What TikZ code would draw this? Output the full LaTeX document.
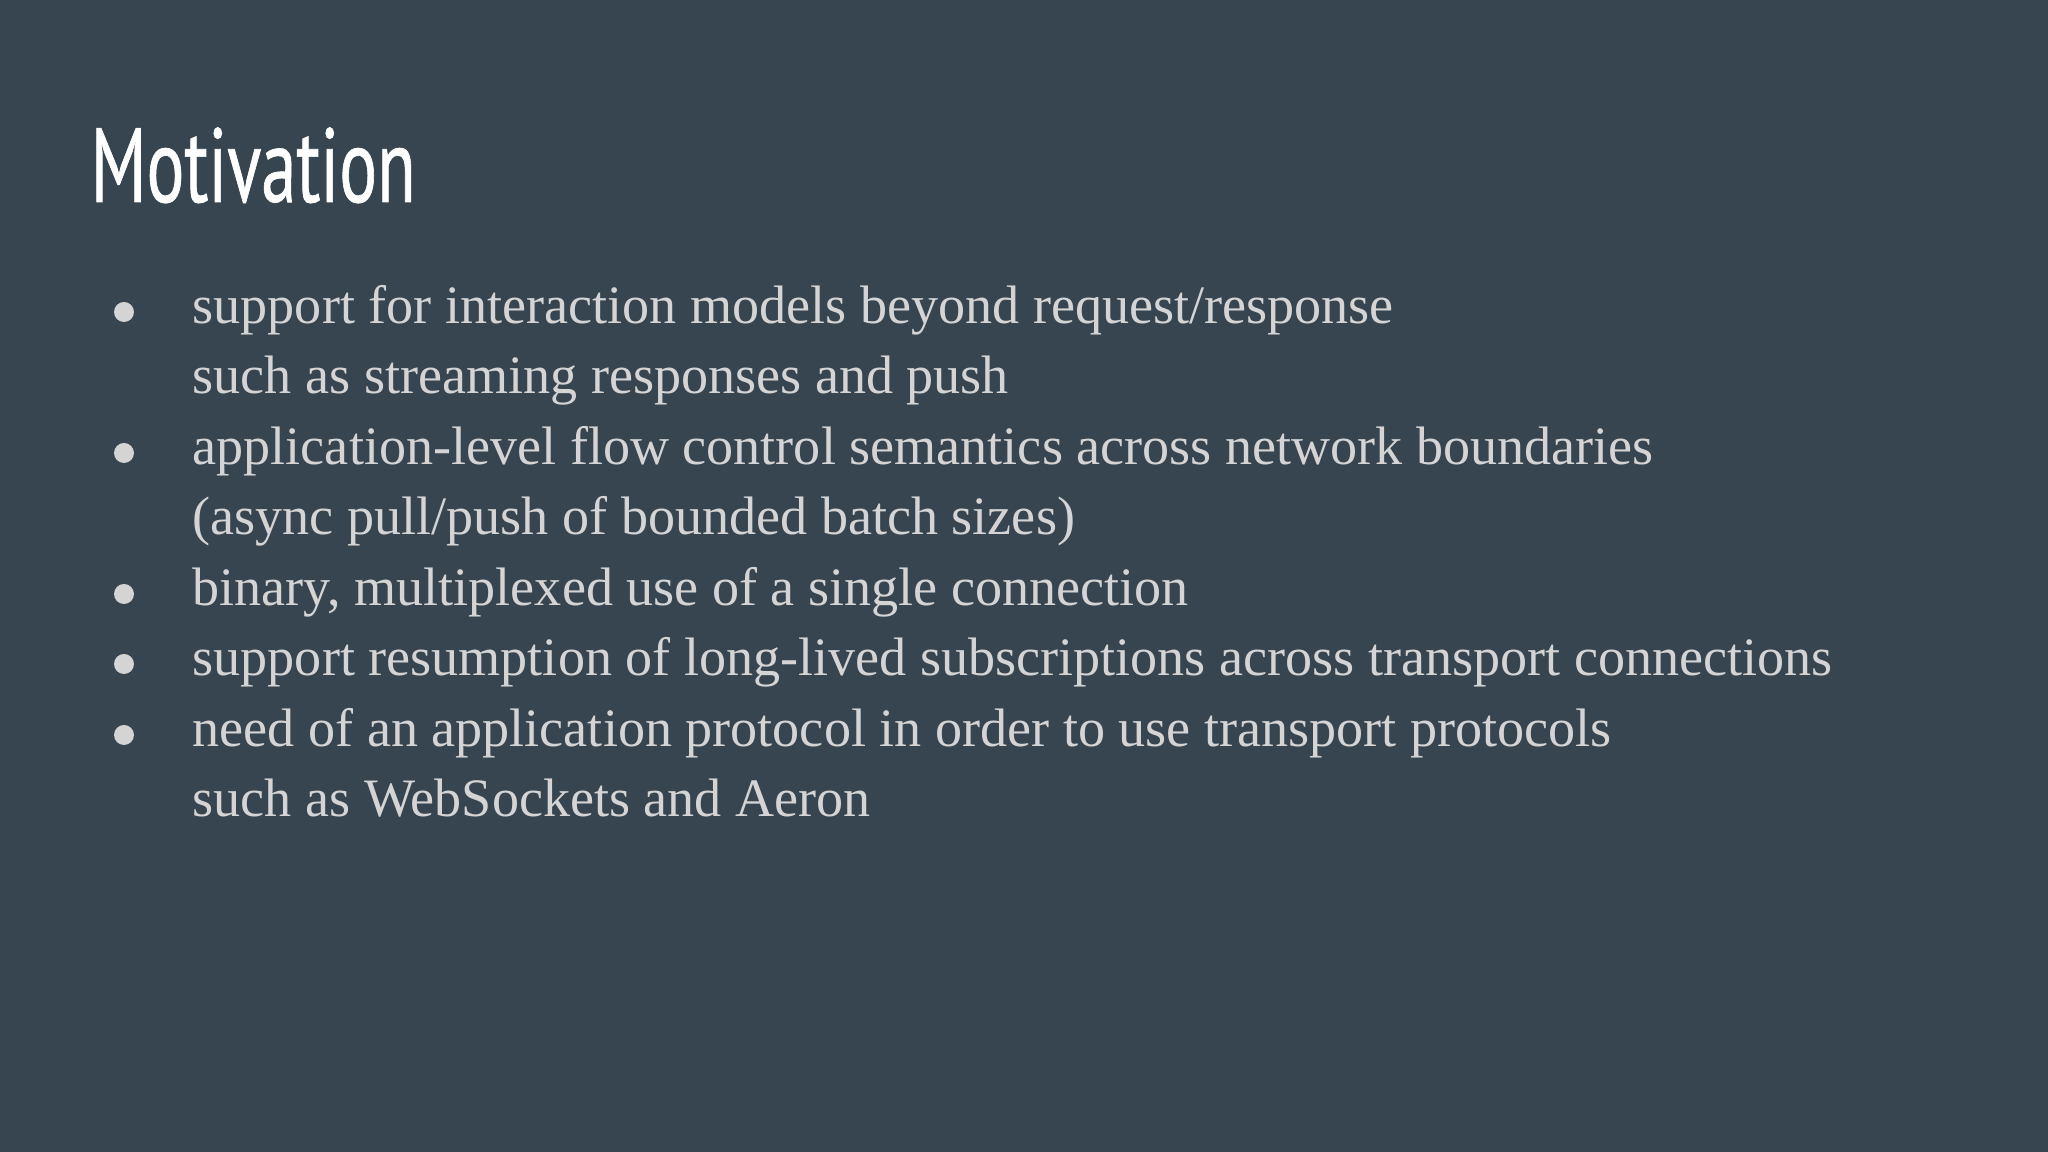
\documentclass[tikz,border=0pt]{standalone}
\usepackage{fontspec}
\setmainfont{Liberation Serif}
\newfontfamily\titlefont[FakeStretch=0.67,FakeBold=0.6]{PT Sans}
\definecolor{bg}{HTML}{36454F}
\definecolor{txt}{HTML}{D4D4D4}
\begin{document}
\begin{tikzpicture}[x=1cm,y=1cm,
  line/.style={anchor=base west,inner sep=0pt,text=txt,font=\fontsize{15.4pt}{18pt}\selectfont},
  dot/.style={circle,fill=txt,inner sep=0pt,minimum size=0.2cm}]
\fill[bg] (0,0) rectangle (20.48,11.52);
\useasboundingbox (0,0) rectangle (20.48,11.52);
\node[anchor=base west,inner sep=0pt,text=white,font=\titlefont\fontsize{30pt}{34pt}\selectfont] (title) at (0.9,9.50) {Motivation};
\node[line] (l1) at (1.92,8.28) {support for interaction models beyond request/response};
\node[line] (l2) at (1.92,7.58) {such as streaming responses and push};
\node[line] (l3) at (1.92,6.87) {application-level flow control semantics across network boundaries};
\node[line] (l4) at (1.92,6.17) {(async pull/push of bounded batch sizes)};
\node[line] (l5) at (1.92,5.46) {binary, multiplexed use of a single connection};
\node[line] (l6) at (1.92,4.76) {support resumption of long-lived subscriptions across transport connections};
\node[line] (l7) at (1.92,4.05) {need of an application protocol in order to use transport protocols};
\node[line] (l8) at (1.92,3.35) {such as WebSockets and Aeron};
\node[dot] (b1) at (1.24,8.40) {};
\node[dot] (b3) at (1.24,6.99) {};
\node[dot] (b5) at (1.24,5.58) {};
\node[dot] (b6) at (1.24,4.88) {};
\node[dot] (b7) at (1.24,4.17) {};
\end{tikzpicture}
\end{document}
